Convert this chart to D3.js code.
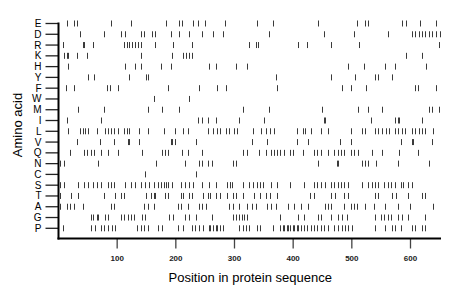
<html>
    <head>
        <meta charset="utf-8">
        <style>
         body {
             margin: 0;
             background: #fff;
         }
         text {
             font-family: "Liberation Sans", Arial, sans-serif;
         }
        </style>
        <script src="https://d3js.org/d3.v7.min.js"></script>
    </head>
    <body>
        <svg id="chart" width="460" height="299"></svg>
    </body>
    <script>
     // amino acids, top to bottom
     var aminoAcids = ['E','D','R','K','H','Y','F','W','M','I','L','V','Q','N','C','S','T','A','G','P'];
     var xTicks = [100, 200, 300, 400, 500, 600];
     var seqLength = 652;

     // positions of each residue in the sequence
     var E = [14,27,31,89,124,184,206,211,230,237,249,283,338,365,443,508,523,528,586,593,617,643];
     var D = [36,78,107,114,140,145,160,165,191,206,222,245,264,280,358,453,503,562,603,608,615,620,625,632,637,644,650];
     var R = [7,41,44,58,111,116,121,126,130,135,141,164,196,228,324,337,340,409,423,465,513,648];
     var K = [9,14,17,32,49,140,194,213,218,222,227,593,619];
     var H = [17,113,131,140,174,191,257,269,303,322,493,520,557,573,627];
     var Y = [51,60,121,150,153,370,464,506,539,545,569];
     var F = [12,27,82,87,101,186,240,271,286,372,484,499,525,607,612,644];
     var W = [162,222];
     var M = [34,77,153,177,206,314,358,450,511,528,552,631,637,648];
     var I = [15,72,237,245,254,269,307,351,452,455,532,574,578,581,619];
     var L = [17,36,41,46,51,66,80,85,90,95,101,111,116,121,138,153,179,198,213,220,254,264,271,276,286,290,300,305,331,346,353,361,367,407,416,421,430,447,460,498,517,522,539,545,552,559,564,573,578,585,590,603,608,615,620,625,639];
     var V = [32,70,95,118,121,138,191,194,199,235,329,356,407,426,479,499,583,602,605,636];
     var Q = [20,44,49,55,60,72,85,102,143,176,181,186,211,220,245,314,322,341,353,363,368,373,378,384,394,399,416,435,441,447,460,469,476,481,486,498,503,510,535,552,581,612];
     var N = [3,10,68,167,215,239,245,254,261,298,302,443,474,477,517,522,528,542,578,631];
     var C = [148,234];
     var S = [3,9,34,43,51,58,65,72,84,89,94,114,123,131,140,147,155,162,169,174,179,184,186,194,208,215,222,230,244,256,268,288,292,293,295,315,324,332,339,344,349,363,373,394,418,435,441,447,455,464,469,476,481,486,493,518,528,535,540,545,554,561,566,574,583,588,596,603];
     var T = [3,22,34,77,97,106,111,150,157,162,165,181,186,208,213,223,227,247,254,259,268,276,288,297,302,314,334,343,353,361,373,428,435,464,472,486,494,539,545,569,576,596,620,625];
     var A = [2,15,20,26,41,90,94,145,153,162,203,208,220,240,245,251,290,297,307,322,329,336,356,363,370,392,401,413,426,455,460,465,486,498,503,508,522,537,557,578,600,639];
     var G = [55,58,65,68,80,85,106,111,118,123,128,143,147,188,196,215,223,234,261,297,302,307,312,317,322,377,409,418,443,448,464,477,484,491,540,549,554,561,566,578,586,595,625];
     var P = [7,56,63,72,77,85,92,97,133,140,145,152,169,176,203,213,228,232,239,247,256,259,263,268,271,276,280,307,314,319,324,339,344,365,378,382,385,389,392,395,399,402,406,409,414,419,424,430,435,441,447,452,459,469,477,484,489,494,501,540,556,568,573,583,603,608,620,625];

     var positions = {E:E, D:D, R:R, K:K, H:H, Y:Y, F:F, W:W, M:M, I:I, L:L, V:V, Q:Q, N:N, C:C, S:S, T:T, A:A, G:G, P:P};

     var svg = d3.select('#chart');
     var plotLeft = 58.5, plotRight = 441, rowTop = 23.5, rowBottom = 228.3, axisY = 238.5;

     var x = d3.scaleLinear().domain([0, seqLength]).range([plotLeft, plotRight]);
     var y = d3.scalePoint().domain(aminoAcids).range([rowTop, rowBottom]);

     // marks
     var cells = [];
     aminoAcids.forEach(function(a) {
         positions[a].forEach(function(p) { cells.push({aa: a, pos: p}); });
     });
     svg.append('g').selectAll('line')
        .data(cells)
        .enter().append('line')
        .attr('x1', function(d) { return Math.round(x(d.pos)) + 0.5; })
        .attr('x2', function(d) { return Math.round(x(d.pos)) + 0.5; })
        .attr('y1', function(d) { return y(d.aa) - 3; })
        .attr('y2', function(d) { return y(d.aa) + 3; })
        .attr('stroke', '#3a3a3a')
        .attr('stroke-width', 1);

     // y axis
     var yAxis = svg.append('g');
     yAxis.selectAll('line')
          .data(aminoAcids)
          .enter().append('line')
          .attr('x1', plotLeft - 13).attr('x2', plotLeft)
          .attr('y1', function(d) { return y(d); })
          .attr('y2', function(d) { return y(d); })
          .attr('stroke', '#222').attr('stroke-width', 1.3);
     yAxis.selectAll('text')
          .data(aminoAcids)
          .enter().append('text')
          .attr('x', plotLeft - 17)
          .attr('y', function(d) { return y(d) + 3.5; })
          .attr('text-anchor', 'end')
          .attr('font-size', 10)
          .attr('fill', '#000')
          .text(function(d) { return d; });
     svg.append('line')
        .attr('x1', plotLeft).attr('x2', plotLeft)
        .attr('y1', rowTop - 1).attr('y2', axisY + 1)
        .attr('stroke', '#000').attr('stroke-width', 2);

     // x axis
     var xAxis = svg.append('g');
     xAxis.selectAll('line')
          .data(xTicks)
          .enter().append('line')
          .attr('x1', function(d) { return x(d); })
          .attr('x2', function(d) { return x(d); })
          .attr('y1', axisY).attr('y2', axisY + 10)
          .attr('stroke', '#444').attr('stroke-width', 1.3);
     xAxis.selectAll('text')
          .data(xTicks)
          .enter().append('text')
          .attr('x', function(d) { return x(d); })
          .attr('y', axisY + 22)
          .attr('text-anchor', 'middle')
          .attr('font-size', 8)
          .attr('font-weight', 'bold')
          .attr('fill', '#222')
          .text(function(d) { return d; });
     svg.append('line')
        .attr('x1', plotLeft - 1).attr('x2', plotRight)
        .attr('y1', axisY).attr('y2', axisY)
        .attr('stroke', '#000').attr('stroke-width', 2);

     // titles
     svg.append('text')
        .attr('x', (plotLeft + plotRight) / 2 + 0.5)
        .attr('y', 282)
        .attr('text-anchor', 'middle')
        .attr('font-size', 13)
        .text('Position in protein sequence');
     svg.append('text')
        .attr('transform', 'translate(22,125) rotate(-90)')
        .attr('text-anchor', 'middle')
        .attr('font-size', 13)
        .text('Amino acid');
    </script>
</html>
